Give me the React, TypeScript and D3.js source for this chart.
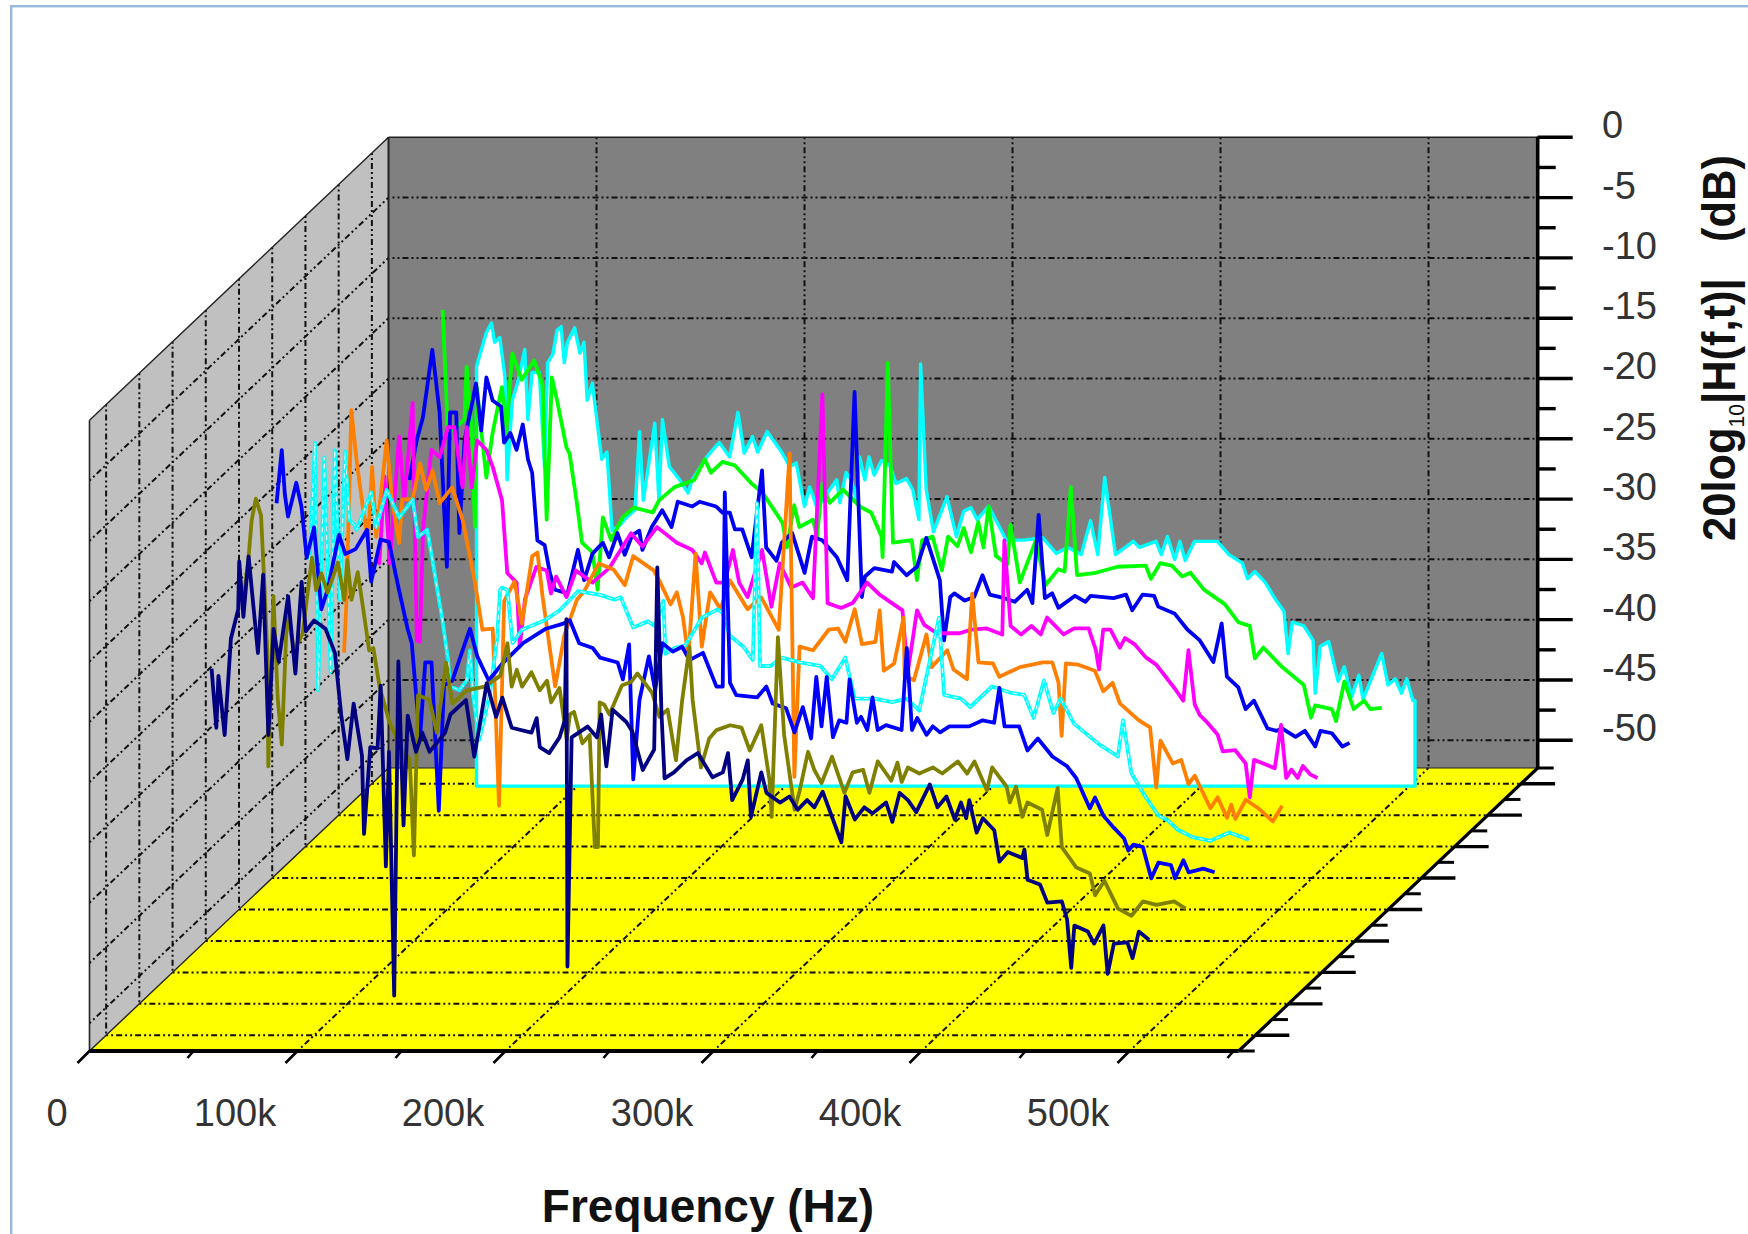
import React from "react";
import * as d3 from "d3";

type P = [number, number];

// Each trace: [frequency in kHz, level in dB], front of the plot to the back
const trace1: P[] = [[50.7,-21.9],[53,-26.8],[54,-22.5],[57,-27.4],[60,-19.4],[63.5,-17],[64,-13],[66,-17.6],[68.5,-12.6],[73,-20.6],[75.5,-14.1],[78,-27.4],[80.5,-18.6],[83,-21.3],[87.5,-15.9],[91,-22.3],[94,-14.7],[96,-18.8],[100,-17.9],[105.5,-18.6],[110,-20.6],[113,-25.7],[116,-29.4],[119,-24.8],[123,-29.1],[124,-35.6],[127,-28.4],[130.5,-28.5],[132,-23.3],[134.5,-38.3],[136,-28.8],[138.5,-49],[140.5,-21.3],[143,-34.9],[145,-25.8],[149,-28.8],[152,-27.2],[155.5,-28.8],[163,-27.2],[165.5,-25.7],[173,-24.5],[177,-29.2],[183,-23.1],[187.5,-25.9],[190.5,-24.3],[195,-26.8],[204.5,-27.2],[207,-26],[208.5,-28.4],[213,-28.9],[218,-27.6],[220.5,-26.2],[221.3,-17.8],[221.8,-46.6],[223.8,-27.6],[231.5,-26.7],[236,-27.6],[238,-25.7],[240.5,-30],[243.5,-25.3],[250,-26.3],[253,-27.1],[258,-30.3],[263.5,-28.6],[265,-13.5],[267,-25.6],[268.5,-31],[273,-30.5],[279,-29.5],[284.5,-28.9],[291.5,-30.9],[296.5,-30.5],[299,-28.9],[301,-32.8],[306,-31.1],[308.5,-29.5],[310,-34.2],[315,-30.5],[317.5,-32.2],[324,-33],[328.5,-32.5],[332.5,-33.6],[337,-32.8],[340.5,-33.4],[344.5,-32.1],[349,-34.2],[353.5,-36.3],[355.5,-32.5],[360,-34.4],[364.5,-33.4],[368.5,-33.9],[375,-33],[378,-34.6],[381.5,-32.2],[385.5,-32.8],[389.5,-33.8],[396,-31.5],[399.7,-33.4],[404,-32.5],[408,-34.4],[411,-33],[413.5,-34.3],[415,-32.8],[418.5,-35.5],[421.5,-34.3],[427,-35.3],[429.5,-37.9],[433.5,-37.1],[440.5,-37.6],[441.5,-36.9],[443,-39.4],[449,-39.8],[452.5,-41.3],[459.5,-41.2],[462,-42.7],[464,-46.7],[465.5,-43.2],[472,-43.7],[475,-44.7],[479.5,-43.2],[481.5,-47.2],[484.5,-44.7],[491,-44.6],[493.5,-45.9],[496.5,-43.7],[501.5,-44.4]];
const trace2: P[] = [[50,-18.8],[52.5,-15.3],[54,-12.2],[56,-10.4],[58.5,-11.8],[60,-17.1],[61.5,-23],[62,-32.6],[64.5,-18.5],[66.5,-26.9],[68.5,-30.8],[71,-19.9],[74.5,-23],[78.5,-21.6],[83,-15.3],[85,-18],[87.5,-16.6],[90.5,-18.2],[95.5,-15.7],[98.5,-18.8],[100,-15.5],[102,-18.8],[105,-16.5],[107.5,-19.4],[110.5,-23],[112.5,-22.8],[115.5,-26],[120,-28.8],[126.5,-31.4],[130,-32],[132,-40],[134,-26.7],[139.5,-27.1],[143,-29.8],[147.5,-24],[150.5,-27.4],[157.5,-26.3],[166,-26],[173.5,-25.1],[176,-23.2],[177,-22.4],[179,-26],[181.5,-24.6],[184,-26],[188.5,-24.8],[192.5,-26.3],[196,-25.5],[198,-27.3],[202,-26.1],[205.5,-30.4],[207,-28.3],[209,-28.1],[213,-30.7],[216.5,-30],[219,-39.3],[220.5,-39.3],[221.3,-27.3],[223.5,-27.5],[226,-28.3],[232,-25.9],[236.5,-25.6],[239.5,-24.9],[246.5,-26.5],[250,-28.5],[254,-27.9],[258,-32.1],[261,-27.1],[264.5,-22.7],[266,-27.1],[270,-32.7],[274,-30.3],[277.5,-29.6],[284,-29.2],[289.5,-29.4],[293.5,-31.3],[299,-29.2],[303,-33.8],[304,-36.8],[307,-21.9],[310,-30],[315,-36.2],[317.5,-34.6],[321.5,-31.4],[324.5,-32.9],[328,-34],[333,-31.8],[339,-34.8],[343,-33.1],[348,-32.9],[351,-34.8],[355,-32.2],[361.5,-33.8],[364.5,-32.3],[366.5,-33.9],[369.5,-32.7],[375,-33.2],[381.5,-32.7],[386,-33.2],[393.5,-32.2],[398,-33.2],[401.5,-32.2],[407.5,-34.6],[410,-32.7],[417,-34.3],[418.5,-35.6],[421.5,-34.3],[424.5,-36.8],[427,-35.6],[434,-36.2],[436.5,-38.3],[441.5,-34.4],[443.5,-39.3],[450.5,-41],[457,-41.5],[459.5,-43.3],[464,-42.1],[470.5,-44.4],[477,-45],[482.5,-43.8],[489,-44.1],[497.5,-43.8],[503,-44.4]];
const trace3: P[] = [[50,-13.4],[52.5,-9],[54,-12.7],[55.5,-14.5],[59.5,-11.7],[62,-13.7],[64.5,-17.9],[68,-15.4],[71.5,-22.2],[74.5,-20.6],[80,-16],[83,-17.6],[88,-17.2],[93.5,-15.6],[95.5,-19.9],[100,-16.4],[104,-16.6],[108.5,-20.3],[113,-23.8],[115,-25],[117.5,-30.1],[119,-32.8],[121.5,-26.6],[124.5,-26.6],[128,-38.9],[130.5,-28.5],[134.5,-28.1],[143,-23.8],[146.5,-26.1],[152,-28.1],[158.5,-26.7],[168.5,-25],[179.5,-23.8],[187.5,-23.4],[191,-23.1],[195.5,-25],[202,-25.4],[205.5,-26.2],[214,-26.6],[216.5,-28],[219.5,-25.1],[221.5,-36.3],[224.5,-29.7],[229,-26.1],[232,-28.9],[235.5,-25],[240.5,-25.7],[245,-25.3],[248.5,-26.4],[255,-25.8],[261.5,-28.6],[264.5,-28.6],[265.5,-12.5],[268,-28.3],[271,-29.3],[281,-29.5],[285.5,-28.6],[288.5,-30],[295,-30.4],[299,-32.4],[303,-30.3],[307,-32.9],[309.5,-27.8],[312,-31.9],[314.5,-27.8],[317.5,-32.8],[320.5,-31.4],[324,-31.6],[325.5,-28],[329,-31.6],[331,-31.1],[334,-32.2],[336.5,-29.5],[339,-32.2],[343,-31.8],[350.5,-32.2],[353,-25.4],[355.5,-32.2],[358,-31.2],[362.5,-32.6],[365.5,-31.9],[369,-32.4],[373.5,-31.9],[383,-31.9],[389.5,-31.4],[395,-31.6],[397.5,-28.7],[400,-31.9],[407,-31.9],[411,-33.9],[416,-32.9],[423,-34.4],[430,-35.2],[434.5,-36.2],[441,-38.7],[443.5,-37.8],[447.5,-39.3],[452.5,-40.3],[457.5,-41.2],[459.5,-42.2],[462,-41.7],[466.5,-41.9],[470.5,-44.5],[474,-43.2],[480,-43.4],[482,-44.5],[486,-43],[488.5,-44],[495.5,-43.7],[501,-44]];
const trace4: P[] = [[50,-20.7],[52.5,-11],[54,-31.5],[57,-12.2],[60,-30],[62,-11.6],[64.5,-24],[67,-11.7],[69,-17.4],[71.5,-17.8],[72.5,-18.2],[79.5,-15.1],[82,-18],[87,-14.9],[93,-17.2],[99.5,-15.7],[102,-18.8],[106.5,-18.2],[110,-21.8],[113.5,-25.4],[116.5,-29],[117.5,-31.2],[122,-31.5],[125.5,-30.7],[127,-28.2],[128.5,-31.9],[131.5,-35.6],[136.5,-31.9],[140,-27.3],[141.5,-23.2],[142.5,-23],[145,-23.2],[147.5,-27.6],[152,-26.5],[163,-25.7],[170,-24.9],[179,-23.3],[189.5,-23.6],[196.5,-24],[199.5,-23.8],[205.5,-26.3],[212.5,-25.8],[216,-26.2],[220,-24.1],[221,-28.5],[225.5,-28],[230.5,-27.8],[238.5,-25.5],[246,-24.8],[248.5,-25.1],[252,-27],[258.5,-27.9],[263,-29],[265,-16],[266.5,-29.5],[271.5,-29.5],[277,-28.8],[285.5,-29.2],[295.5,-29.5],[301,-30.6],[307.5,-28.8],[312,-32.2],[321.5,-32.2],[330,-32.5],[337,-32.2],[343,-33.2],[352.5,-25.5],[355,-31.9],[363,-32.2],[367.5,-32.9],[378,-31.2],[386.5,-31.7],[393.5,-31.9],[398,-33.8],[403,-30.7],[407.5,-33.4],[411,-32.2],[417.5,-34.3],[429.5,-36],[438.5,-37],[441,-34],[445,-38.4],[452,-40.4],[458,-41.9],[462.5,-42.3],[467.5,-43.1],[474.5,-43.7],[483,-44],[492,-43.3],[501.5,-43.9]];
const trace5: P[] = [[50.5,-31],[51.7,-26.6],[54,-10.9],[56.5,-15],[59.5,-18.9],[62,-21.7],[64,-15.6],[66,-21.4],[71,-13.4],[73.5,-18.3],[77,-21.9],[78.5,-18.3],[83.5,-18.3],[87,-15.3],[90,-17.5],[93,-15.9],[96.5,-18.6],[102.5,-17.3],[107.5,-20],[113.5,-25.2],[117,-29.1],[122,-29],[125,-43.7],[127.5,-26.7],[132.5,-25.1],[136,-28.6],[141,-23],[143.5,-22.7],[146,-26.4],[152,-33.8],[156.5,-29.5],[162.5,-26.6],[166,-25.9],[173,-23.6],[180,-24.1],[185.5,-25.4],[189.5,-23],[199.5,-24.2],[202,-25],[207.5,-27],[210.5,-26],[213.5,-28.1],[216,-31.4],[219.5,-22.8],[222.5,-30.5],[226.5,-26],[231.5,-27.4],[236,-25],[244.5,-27.4],[251,-26.4],[259.5,-29.1],[264.7,-14.5],[267,-41.3],[269.5,-30.5],[276,-30.8],[283.5,-29.1],[288,-29],[291.5,-30.1],[296,-27.4],[299.5,-30.3],[306,-30.1],[308,-27.5],[310,-32.5],[315,-31.9],[319.5,-28.1],[320,-32.9],[324.5,-33.3],[330.5,-29.5],[333,-32.2],[340.5,-30.8],[343.5,-32.4],[350,-33.2],[352.5,-26.1],[355.5,-31.8],[362.5,-31.9],[365.5,-33],[375.5,-32.2],[386.5,-31.8],[391,-31.8],[394,-33.5],[395.5,-37.9],[397.5,-31.9],[403.5,-32],[411.5,-32.5],[415.5,-34.2],[420,-33.5],[423.5,-35.2],[432.5,-36.6],[438,-37.2],[441,-42.2],[443,-38.3],[449,-40.2],[453,-39.9],[456.5,-41.9],[459.5,-41.2],[467,-43.9],[470.5,-43],[475,-44.7],[477,-43.6],[479,-44.8],[484,-43.2],[490,-43.9],[497,-45],[501.5,-43.7]];
const trace6: P[] = [[50,-25.9],[51.5,-26.2],[54,-19],[56.5,-26.2],[61,-15.7],[63.5,-21],[67.5,-12.9],[69.5,-32.6],[71,-32.7],[72.5,-23.4],[76.5,-16.8],[80.5,-17.4],[84.5,-14.9],[87.5,-14.9],[91.5,-19.9],[93.5,-14.9],[96,-19.9],[98.5,-16],[103,-16.8],[106,-18.2],[110.5,-21],[113,-27],[117.5,-27.8],[119,-33.1],[121.5,-29.2],[127,-26.5],[132,-26.8],[134,-28.7],[136.5,-27.3],[141.5,-29],[146,-26.8],[154,-27.8],[162,-26.6],[172.5,-23.7],[178,-24.8],[185,-23.2],[194.5,-24.5],[202,-25.1],[206.5,-26.2],[208,-25.3],[213.5,-27.8],[217.5,-27.8],[221.5,-25.1],[224.5,-27.8],[228.5,-29],[235.5,-25.1],[240,-29.8],[244,-26.2],[249.5,-28.2],[255,-27.8],[260,-29.1],[264.5,-12.2],[267,-29.5],[273.5,-29.9],[279,-29.5],[286,-27.8],[292,-28.8],[303,-30.1],[305.5,-35.3],[310,-30.1],[313.5,-31.3],[319.5,-32],[330.5,-32],[336,-31.7],[343.5,-31.6],[351,-32.1],[352,-24.3],[355,-31.4],[360,-32.1],[365,-31.4],[369.5,-32.1],[372.5,-30.7],[376,-31.3],[380.5,-32.1],[385.5,-31.6],[392.5,-31.6],[396,-33.4],[397.5,-35],[399.5,-31.7],[403,-31.7],[407.5,-33.2],[410,-32.4],[414.5,-32.9],[420,-34],[425,-34.6],[434,-36.6],[438,-37.6],[440.5,-33.4],[443.5,-37.9],[446,-38.8],[449,-39.3],[454.5,-40.4],[457,-41.8],[463,-41.7],[468,-42.8],[470,-45.6],[472,-42.5],[476.5,-42.8],[482,-43.2],[485,-39.6],[487.5,-44],[490,-43.3],[493,-44],[495.5,-43],[499,-43.7],[502.5,-44]];
const trace7: P[] = [[50,-21.9],[53.5,-18.6],[56.5,-16.7],[61,-11.1],[64.5,-16.3],[68,-29.1],[69.5,-16.3],[72.5,-16.3],[74,-26.3],[76.5,-18.6],[82,-13.9],[84.5,-17.8],[87,-13.4],[90,-15.3],[94,-15.8],[95.5,-18.8],[98.5,-18],[101.5,-19.4],[104.5,-17.3],[107,-20.2],[109,-21.3],[111.5,-26.9],[115,-27.3],[117.5,-29.6],[120,-31],[126,-31.3],[131,-27.7],[134,-30.2],[138,-28],[143,-27.1],[146,-28.3],[150,-26.3],[153.5,-28.1],[157,-26.5],[160.5,-26.1],[162,-27.7],[166.5,-25.8],[171.5,-24.4],[176,-25.8],[179,-23.7],[186,-24.1],[189.5,-23.7],[197.5,-24.1],[200.5,-24.6],[204,-24.6],[206.5,-26],[210,-26],[214.5,-28.3],[219.5,-21.1],[221.5,-27.5],[226.5,-28.6],[229,-27.1],[234,-26.3],[240,-29.6],[243.5,-26.6],[248.5,-26.9],[255.5,-28.3],[260.5,-30.2],[264,-14.6],[267.5,-31.6],[269,-29.9],[273.5,-29.2],[282,-29.5],[283,-28.7],[289,-29.8],[294,-29.1],[298.5,-26.7],[305,-30.2],[307,-35.2],[310,-31.6],[312,-31.3],[317,-31.9],[321.5,-31.6],[325.5,-29.8],[329,-31.4],[336,-31.7],[341,-32],[347,-31],[349.5,-32.1],[352.5,-24.8],[355.5,-31.7],[359,-31.3],[362,-32.5],[370,-31.5],[375,-32],[377.5,-31.5],[388.5,-31.7],[394.5,-31.4],[397.5,-32.7],[402.5,-31.4],[408,-31.5],[410,-32.4],[418,-33],[424,-34.3],[430,-35.2],[436.5,-37],[440.5,-33.8],[443,-38.2],[448.5,-39.1],[452,-40.9],[456,-40.2],[462.5,-42.5],[467,-42.7],[469.5,-42.5],[476,-43.2],[480.5,-42.7],[485.5,-44],[488,-42.7],[493.5,-42.9],[498.5,-44],[502,-43.7]];
const trace8: P[] = [[50,-10.4],[52.5,-20.6],[54.5,-20.4],[60.5,-19.5],[61.5,-15.1],[64,-20.4],[65.5,-28.4],[66.5,-16.8],[68,-19.5],[71,-24.3],[74,-20.6],[78.5,-16.8],[80.5,-20.6],[83.5,-14],[88,-16.2],[94,-14.6],[98,-16.6],[100,-27.8],[102.5,-16],[105,-17.9],[109.5,-21.8],[111,-22.3],[114.5,-26.4],[117,-29.7],[122,-30.5],[124.5,-33.6],[127,-27.6],[131,-29.5],[136.5,-27.6],[142,-26.8],[151,-27.2],[154,-26.2],[161.5,-25.1],[171,-24.5],[176,-22.8],[179,-23.9],[184.5,-23],[190.5,-23.3],[198.5,-24.8],[204,-25.6],[213.5,-28.1],[215.5,-30.1],[219,-26.6],[221.5,-28.4],[228,-27.8],[230,-29.2],[232.5,-24.8],[236,-26.4],[242.5,-25.3],[250.5,-26.7],[256,-27.2],[261,-29.2],[261.5,-30.9],[264,-14.8],[266.5,-29.7],[275.5,-29.5],[278,-32.8],[280.5,-29.5],[285.5,-29.2],[290,-32],[293,-29.2],[297.5,-30],[300.5,-28.5],[304,-30.5],[307.5,-28],[310,-30.1],[312.5,-26.7],[316,-30.8],[321.5,-31.5],[323,-28.2],[327.5,-33],[335,-29.6],[340,-33.2],[346,-31.9],[349,-32.1],[352,-25.1],[355,-32.4],[364,-32.2],[374.5,-31.7],[388,-31.6],[390.5,-32.7],[395,-31.4],[400.5,-31.6],[405.5,-32.5],[409.5,-32.2],[416,-33.6],[426,-34.8],[432.5,-36.3],[438,-36.6],[440.5,-39.3],[444.5,-38.4],[453.5,-40],[464,-41.5],[467.5,-44.2],[469.5,-43.2],[477.5,-43.5],[479.5,-44.5],[483.5,-41.2],[488,-43.5],[493,-42.8],[496,-43.5],[501.5,-43.4]];
const trace9: P[] = [[50.3,-17.7],[55,-14.9],[57.5,-14.1],[59,-15.7],[61.5,-15.3],[64,-18.6],[65,-27.1],[67.5,-20.5],[70,-19.1],[73.5,-16.3],[75,-22.1],[77,-18.2],[80.5,-18.2],[83,-26],[84.5,-17.4],[87,-16.7],[89,-14.7],[91,-14.4],[92.5,-17.4],[94,-15.7],[97.5,-14.5],[100,-16.6],[102,-15.7],[103.5,-20.5],[106,-19.1],[110.5,-25.4],[113,-24.8],[115.5,-31.3],[119,-30.9],[122.5,-30.2],[126.5,-29.6],[128.7,-23.1],[130.5,-28.8],[136,-22.4],[138,-28.8],[139.7,-22.1],[143,-26],[148,-27.1],[152,-28.2],[154,-27.1],[161,-25.2],[167,-24],[172,-25.2],[176,-21.5],[179,-24.9],[183,-23.5],[185.5,-24.8],[190,-23.1],[197,-24.8],[201,-26],[204,-25.7],[208,-29.3],[210.5,-27.7],[214,-29.4],[223.5,-27.1],[225,-29],[228,-26.5],[230.5,-27.1],[233,-28.8],[234.5,-25.2],[237,-27.1],[239,-25.2],[241.5,-26.7],[245,-25.5],[249,-25.9],[252,-27.4],[257,-27],[260,-27.9],[263,-30.4],[263.8,-17.5],[266.5,-27.9],[270,-31.4],[276.5,-28.5],[281,-31.8],[284.5,-29.7],[288,-29.4],[291,-30.4],[296.5,-29.3],[305,-32.1],[313.5,-32.1],[322.5,-31.9],[329,-33.2],[334.5,-32.7],[341,-33.3],[345.5,-30.5],[349,-33.3],[352.3,-26.9],[357.5,-33.3],[366,-32.2],[369,-32.7],[377,-32.2],[379.5,-33.3],[382.5,-31.8],[386,-33.7],[388.5,-32.2],[391,-33.8],[395.5,-32.2],[406.5,-32.2],[412,-33.3],[418.5,-34],[421,-35.3],[424.5,-34.7],[429.5,-35.6],[434,-36.9],[438.5,-38],[440.5,-41.5],[442.5,-38.9],[448,-39.2],[452.5,-40.4],[453.5,-44.8],[456,-40.9],[460,-40.5],[464.5,-43.8],[467.5,-42.6],[471,-45.1],[474.5,-43.3],[476.5,-45.3],[485.5,-41.5],[488.5,-44.1],[492,-43.6],[495,-44.8],[497.5,-43.6],[500.5,-45.4]];

const traces = [trace1, trace2, trace3, trace4, trace5, trace6, trace7, trace8, trace9];
const traceColors = ["#000080", "#808000", "#0000FF", "#00FFFF", "#FF8000", "#FF00FF", "#0000F0", "#00FF00", "#00FFFF"];

const dbTicks = [0, -5, -10, -15, -20, -25, -30, -35, -40, -45, -50];
const dbMinor = [-2.5, -7.5, -12.5, -17.5, -22.5, -27.5, -32.5, -37.5, -42.5, -47.5];
const freqTicks = [0, 100, 200, 300, 400, 500];
const freqMinor = [50, 150, 250, 350, 450, 550];
const freqLabels = ["0", "100k", "200k", "300k", "400k", "500k"];
const freqLabelX = [57, 235, 443, 652, 860, 1068];

const FONT = "'Liberation Sans', Arial, sans-serif";
const DOTS = "2 3 2 3 6 3";
const INK = "#111";

const x = d3.scaleLinear().domain([0, 555]).range([89.5, 1243.9]);
const y = d3.scaleLinear().domain([-52.3, 0]).range([1051, 420.3]);
const depth = d3.scaleLinear().domain([0, 9]).range([0, 1]);
const DX = 299;
const DY = -283;

const px = (f: number, k: number) => x(f) + DX * depth(k);
const py = (v: number, k: number) => y(v) + DY * depth(k);

const lineAt = (k: number) =>
  d3.line<P>().x((d) => px(d[0], k)).y((d) => py(d[1], k)).curve(d3.curveLinear);

const FLOOR = -52.3;
const F_MAX = 552.5;
const majorDepth = d3.range(0.5, 9, 1);
const minorDepth = d3.range(0, 10, 1);

export default function App() {
  const backIdx = traces.length - 1;
  const back = traces[backIdx];
  const backK = backIdx + 0.5;
  const last = back[back.length - 1];
  const fillPts: P[] = [[back[0][0], FLOOR - 0.2], ...back, [last[0] + 1, last[1]], [last[0] + 1, FLOOR - 0.2]];
  const poly = (pts: [number, number, number][]) =>
    pts.map((p) => `${px(p[0], p[2])},${py(p[1], p[2])}`).join(" ");

  return (
    <svg width={1748} height={1234} viewBox="0 0 1748 1234" style={{ position: "absolute", left: 0, top: 0, display: "block", background: "#fff" }}>
      <rect x={10} y={5} width={1738} height={2.4} fill="#9ab8dd" />
      <rect x={10} y={5} width={2.4} height={1229} fill="#9ab8dd" />

      {/* panels */}
      <polygon points={poly([[0, 0, 9], [F_MAX, 0, 9], [F_MAX, FLOOR, 9], [0, FLOOR, 9]])} fill="#808080" />
      <polygon points={poly([[0, 0, 0], [0, 0, 9], [0, FLOOR, 9], [0, FLOOR, 0]])} fill="#C0C0C0" />
      <polygon points={poly([[0, FLOOR, 0], [0, FLOOR, 9], [F_MAX, FLOOR, 9], [F_MAX, FLOOR, 0]])} fill="#FFFF00" />

      {/* grid */}
      <g stroke={INK} strokeWidth={2} strokeDasharray={DOTS} fill="none">
        {dbTicks.slice(1).map((v) => (
          <line key={`b${v}`} x1={px(0, 9) + 4} y1={py(v, 9)} x2={px(F_MAX, 9)} y2={py(v, 9)} />
        ))}
        {freqTicks.slice(1).map((f) => (
          <line key={`v${f}`} x1={px(f, 9)} y1={py(0, 9)} x2={px(f, 9)} y2={py(FLOOR, 9)} />
        ))}
        {dbTicks.slice(1).map((v) => (
          <line key={`s${v}`} x1={px(0, 0)} y1={py(v, 0)} x2={px(0, 9)} y2={py(v, 9)} />
        ))}
        {majorDepth.map((k) => (
          <line key={`d${k}`} x1={px(0, k)} y1={py(0, k)} x2={px(0, k)} y2={py(FLOOR, k)} />
        ))}
        {majorDepth.map((k) => (
          <line key={`f${k}`} x1={px(0, k)} y1={py(FLOOR, k)} x2={px(F_MAX, k)} y2={py(FLOOR, k)} />
        ))}
        {freqTicks.slice(1).map((f) => (
          <line key={`g${f}`} x1={px(f, 0)} y1={py(FLOOR, 0)} x2={px(f, 9)} y2={py(FLOOR, 9)} />
        ))}
      </g>

      {/* panel edges */}
      <g fill="none" stroke="#222">
        <line x1={px(0, 0)} y1={py(0, 0)} x2={px(0, 9)} y2={py(0, 9)} strokeWidth={1.4} />
        <line x1={px(0, 0)} y1={py(FLOOR, 0)} x2={px(0, 9)} y2={py(FLOOR, 9)} strokeWidth={1.4} />
        <line x1={px(0, 9)} y1={py(0, 9)} x2={px(0, 9)} y2={py(FLOOR, 9)} strokeWidth={2} />
        <line x1={px(0, 0)} y1={py(0, 0)} x2={px(0, 0)} y2={py(FLOOR, 0)} strokeWidth={1.6} />
        <line x1={px(0, 9)} y1={py(0, 9)} x2={px(F_MAX, 9)} y2={py(0, 9)} strokeWidth={1.6} />
        <line x1={px(0, 9)} y1={py(FLOOR, 9)} x2={px(F_MAX, 9)} y2={py(FLOOR, 9)} strokeWidth={1.2} />
      </g>

      {/* back trace with its white curtain */}
      <path d={(lineAt(backK)(fillPts) as string) + "Z"} fill="#fff" stroke="#00FFFF" strokeWidth={3.4} strokeLinejoin="round" />

      {/* traces, back to front */}
      {d3.range(backIdx - 1, -1, -1).map((i) => (
        <g key={i}>
          <path d={lineAt(i + 0.5)(traces[i]) as string} fill="none" stroke={traceColors[i]} strokeWidth={3.8} strokeLinejoin="round" />
          {i === 3 && <path d={lineAt(i + 0.5)(traces[i]) as string} fill="none" stroke="#fff" strokeWidth={0.9} strokeDasharray="5 4" strokeLinejoin="round" />}
        </g>
      ))}

      {/* axes */}
      <g stroke="#000" fill="none">
        <line x1={px(F_MAX, 9)} y1={py(0, 9) - 0.5} x2={px(F_MAX, 9)} y2={py(FLOOR, 9)} strokeWidth={3.6} />
        <line x1={px(0, 0)} y1={py(FLOOR, 0)} x2={px(F_MAX, 0)} y2={py(FLOOR, 0)} strokeWidth={3.8} />
        <line x1={px(F_MAX, 0)} y1={py(FLOOR, 0)} x2={px(F_MAX, 9)} y2={py(FLOOR, 9)} strokeWidth={3.2} />
        {dbTicks.map((v) => (
          <line key={v} x1={px(F_MAX, 9)} y1={py(v, 9)} x2={px(F_MAX, 9) + 35} y2={py(v, 9)} strokeWidth={3.4} />
        ))}
        {dbMinor.map((v) => (
          <line key={v} x1={px(F_MAX, 9)} y1={py(v, 9)} x2={px(F_MAX, 9) + 18} y2={py(v, 9)} strokeWidth={3.4} />
        ))}
        {majorDepth.map((k) => (
          <line key={k} x1={px(F_MAX, k)} y1={py(FLOOR, k)} x2={px(F_MAX, k) + 34} y2={py(FLOOR, k)} strokeWidth={3.4} />
        ))}
        {minorDepth.map((k) => (
          <line key={k} x1={px(F_MAX, k)} y1={py(FLOOR, k)} x2={px(F_MAX, k) + 16} y2={py(FLOOR, k)} strokeWidth={3} />
        ))}
        {freqTicks.map((f) => (
          <line key={f} x1={px(f, 0)} y1={py(FLOOR, 0)} x2={px(f, 0) - 12} y2={py(FLOOR, 0) + 12} strokeWidth={2.6} />
        ))}
        {freqMinor.map((f) => (
          <line key={f} x1={px(f, 0)} y1={py(FLOOR, 0)} x2={px(f, 0) - 6} y2={py(FLOOR, 0) + 7} strokeWidth={2.6} />
        ))}
      </g>

      {/* labels */}
      <g fontFamily={FONT} fill="#333" fontSize={38}>
        {dbTicks.map((v) => (
          <text key={v} x={1602} y={py(v, 9) + 1}>
            {v === 0 ? "0" : `-${-v}`}
          </text>
        ))}
        {freqLabels.map((t, i) => (
          <text key={t} x={freqLabelX[i]} y={1126} textAnchor="middle">
            {t}
          </text>
        ))}
      </g>
      <text x={708} y={1222} textAnchor="middle" fontFamily={FONT} fontSize={46} fontWeight={700} fill="#111">
        Frequency (Hz)
      </text>
      <text transform="translate(1735,541) rotate(-90) scale(1,1.08)" fontFamily={FONT} fontSize={43.5} fontWeight={700} fill="#111" xmlSpace="preserve">
        20log<tspan fontSize={21} dy={8} fontWeight={400}>10</tspan>
        <tspan dy={-8}>|H(f,t)|   (dB)</tspan>
      </text>
    </svg>
  );
}
